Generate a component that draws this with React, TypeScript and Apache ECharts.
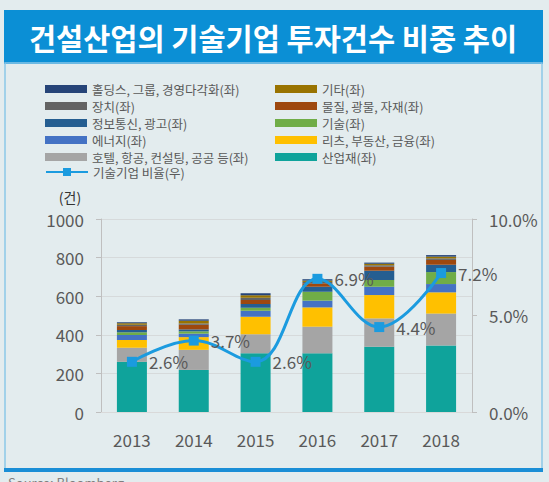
import React, { useEffect, useRef } from "react";
import * as echarts from "echarts";

const years = ["2013", "2014", "2015", "2016", "2017", "2018"];
const industrial = [260, 218, 304, 304, 338, 345];
const hotel = [73, 104, 99, 138, 147, 165];
const reits = [40, 66, 91, 100, 121, 110];
const energy = [26, 18, 31, 35, 43, 43];
const tech = [14, 12, 15, 46, 35, 62];
const telecom = [12, 10, 20, 26, 48, 38];
const materials = [20, 24, 20, 18, 21, 25];
const devices = [7, 7, 12, 7, 7, 8];
const others = [8, 14, 13, 7, 8, 9];
const holdings = [5, 7, 10, 7, 6, 8];
const techRatio = [2.6, 3.7, 2.6, 6.9, 4.4, 7.2];

const FONT = "'Noto Sans CJK KR', 'Noto Sans', sans-serif";

const barSeries = [
  { name: "산업재(좌)", data: industrial, color: "#0FA39B" },
  { name: "호텔, 항공, 컨설팅, 공공 등(좌)", data: hotel, color: "#A5A5A5" },
  { name: "리츠, 부동산, 금융(좌)", data: reits, color: "#FFC000" },
  { name: "에너지(좌)", data: energy, color: "#4472C4" },
  { name: "기술(좌)", data: tech, color: "#70AD47" },
  { name: "정보통신, 광고(좌)", data: telecom, color: "#255E91" },
  { name: "물질, 광물, 자재(좌)", data: materials, color: "#9E480E" },
  { name: "장치(좌)", data: devices, color: "#636363" },
  { name: "기타(좌)", data: others, color: "#997300" },
  { name: "홀딩스, 그룹, 경영다각화(좌)", data: holdings, color: "#264478" },
];
const lineName = "기술기업 비율(우)";

export default function App() {
  const ref = useRef<HTMLDivElement>(null);
  useEffect(() => {
    if (!ref.current) return;
    const chart = echarts.init(ref.current, undefined, { renderer: "svg" });
    const legendText = { fontSize: 12.5, color: "#595959", fontFamily: FONT, lineHeight: 14 };
    chart.setOption({
      animation: false,
      backgroundColor: "#E3ECEE",
      textStyle: { fontFamily: FONT },
      graphic: [
        { type: "rect", shape: { x: 4, y: 10, width: 539, height: 54 }, style: { fill: "#0B8FD5" }, z: -1 },
        { type: "rect", shape: { x: 5, y: 63, width: 537, height: 407 }, style: { fill: "none", stroke: "#8CC7E8", lineWidth: 1.5 }, z: -1 },
        { type: "rect", shape: { x: 4, y: 468, width: 539, height: 4 }, style: { fill: "#1A8ED6" }, z: -1 },
        {
          type: "text", x: 273, y: 37,
          style: { text: "건설산업의 기술기업 투자건수 비중 추이", fill: "#FFFFFF", fontSize: 29.5, fontWeight: "bold", fontFamily: FONT, textAlign: "center", textVerticalAlign: "middle" },
        },
        {
          type: "text", x: 70, y: 197,
          style: { text: "(건)", fill: "#333333", fontSize: 14, fontFamily: FONT, textAlign: "center", textVerticalAlign: "middle" },
        },
        {
          type: "text", x: 8, y: 476,
          style: { text: "Source: Bloomberg", fill: "#7F7F7F", fontSize: 13, fontFamily: FONT, textAlign: "left", textVerticalAlign: "top" },
        },
      ],
      legend: [
        {
          orient: "vertical", left: 40, top: 77, itemWidth: 42, itemHeight: 8, itemGap: 3, icon: "rect",
          textStyle: legendText,
          data: ["홀딩스, 그룹, 경영다각화(좌)", "장치(좌)", "정보통신, 광고(좌)", "에너지(좌)", "호텔, 항공, 컨설팅, 공공 등(좌)"],
        },
        {
          orient: "vertical", left: 40, top: 160, itemWidth: 42, itemHeight: 10, itemGap: 3,
          textStyle: legendText,
          data: [lineName],
        },
        {
          orient: "vertical", left: 270, top: 77, itemWidth: 42, itemHeight: 8, itemGap: 3, icon: "rect",
          textStyle: legendText,
          data: ["기타(좌)", "물질, 광물, 자재(좌)", "기술(좌)", "리츠, 부동산, 금융(좌)", "산업재(좌)"],
        },
      ],
      grid: { left: 101, right: 77, top: 219, bottom: 70 },
      xAxis: {
        type: "category", data: years,
        axisLine: { lineStyle: { color: "#D9D9D9" } },
        axisTick: { show: false },
        axisLabel: { fontSize: 17, color: "#595959", margin: 19, fontFamily: FONT },
      },
      yAxis: [
        {
          type: "value", min: 0, max: 1000, interval: 200,
          axisLine: { show: true, lineStyle: { color: "#BFBFBF" } },
          axisTick: { show: true, length: 5, lineStyle: { color: "#BFBFBF" } },
          splitLine: { lineStyle: { color: "#D6DADB" } },
          axisLabel: { fontSize: 17, color: "#595959", margin: 17, fontFamily: FONT, formatter: (v: number) => String(v) },
        },
        {
          type: "value", min: 0, max: 10, interval: 5, position: "right",
          axisLine: { show: true, lineStyle: { color: "#BFBFBF" } },
          axisTick: { show: true, length: 5, lineStyle: { color: "#BFBFBF" } },
          splitLine: { show: false },
          axisLabel: { fontSize: 17, color: "#595959", margin: 17, fontFamily: FONT, formatter: (v: number) => v.toFixed(1) + "%" },
        },
      ],
      series: [
        ...barSeries.map((s) => ({
          name: s.name, type: "bar", stack: "total", data: s.data, barWidth: 30,
          itemStyle: { color: s.color },
        })),
        {
          name: lineName, type: "line", yAxisIndex: 1, data: techRatio, smooth: 0.4,
          symbol: "rect", symbolSize: 10,
          lineStyle: { color: "#1B9BDF", width: 3 },
          itemStyle: { color: "#1B9BDF" },
          label: {
            show: true, position: "right", distance: 12, fontSize: 17, color: "#595959", fontFamily: FONT,
            formatter: (p: any) => Number(p.value).toFixed(1) + "%",
          },
          z: 5,
        },
      ],
    });
    return () => chart.dispose();
  }, []);
  return <div ref={ref} style={{ position: "fixed", left: 0, top: 0, width: 549, height: 482 }} />;
}
